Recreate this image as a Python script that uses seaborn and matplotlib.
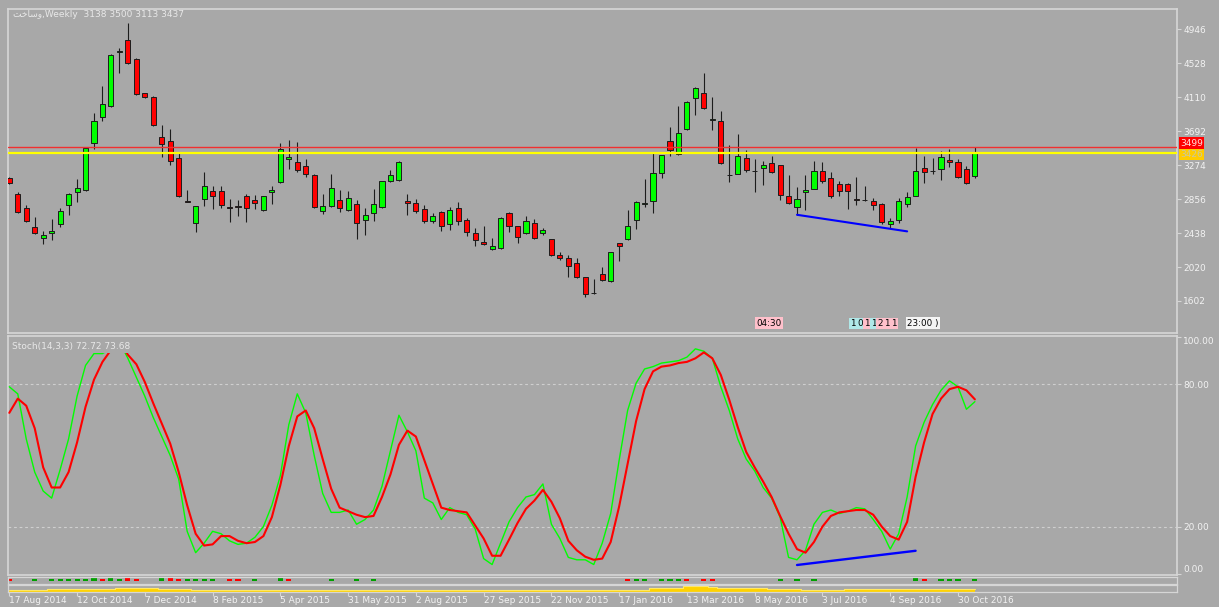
import numpy as np
import pandas as pd
import matplotlib
matplotlib.use("Agg")
import matplotlib.pyplot as plt
import seaborn as sns

# weekly candles (bar 0 = 17 Aug 2014)
opens = [3114, 2918, 2745, 2512, 2377, 2438, 2549, 2782, 2942, 2967,
         3544, 3864, 3999, 4670, 4811, 4577, 4159, 4110, 3618, 3569,
         3360, 2832, 2561, 2856, 2954, 2954, 2758, 2770, 2893, 2844,
         2721, 2942, 3065, 3348, 3311, 3262, 3151, 2708, 2770, 2844,
         2721, 2795, 2598, 2684, 2758, 3077, 3090, 2832, 2807, 2733,
         2586, 2696, 2549, 2745, 2598, 2438, 2327, 2241, 2254, 2684,
         2524, 2438, 2561, 2438, 2364, 2168, 2131, 2069, 1897, 1695,
         1934, 1848, 2315, 2364, 2598, 2800, 2832, 3176, 3569, 3409,
         3717, 4098, 4159, 3835, 3815, 3148, 3163, 3360, 3198, 3237,
         3299, 3274, 2893, 2758, 2942, 2979, 3200, 3114, 3040, 3040,
         2856, 2844, 2832, 2795, 2549, 2598, 2795, 2893, 3237, 3198,
         3225, 3335, 3311, 3225, 3138]
highs = [3130, 2942, 2782, 2635, 2463, 2610, 2745, 2930, 3102, 3490,
         3913, 4245, 4640, 4712, 5020, 4590, 4165, 4120, 3766, 3717,
         3422, 2967, 2770, 3188, 3016, 3016, 2856, 2844, 2918, 2905,
         2900, 3016, 3544, 3581, 3557, 3348, 3160, 2918, 3163, 2967,
         2954, 2844, 2745, 2979, 3080, 3212, 3320, 2918, 2856, 2782,
         2684, 2710, 2758, 2819, 2622, 2499, 2524, 2377, 2630, 2700,
         2530, 2647, 2610, 2499, 2370, 2204, 2168, 2131, 1900, 1872,
         2020, 2210, 2320, 2721, 2830, 3102, 3434, 3400, 3741, 4000,
         4060, 4230, 4405, 4110, 3938, 3520, 3655, 3458, 3348, 3323,
         3385, 3280, 3151, 3003, 3151, 3323, 3311, 3188, 3077, 3053,
         3126, 3016, 2868, 2807, 2622, 2868, 2942, 3483, 3385, 3360,
         3446, 3471, 3348, 3262, 3500]
lows = [3040, 2690, 2575, 2430, 2303, 2352, 2512, 2659, 2819, 2960,
        3471, 3815, 3987, 4405, 4520, 4140, 4105, 3760, 3372, 3274,
        2880, 2820, 2450, 2770, 2733, 2745, 2573, 2647, 2573, 2733,
        2715, 2795, 3060, 3225, 3188, 3127, 2750, 2672, 2765, 2696,
        2715, 2364, 2413, 2586, 2750, 3070, 3080, 2659, 2684, 2561,
        2561, 2463, 2475, 2536, 2401, 2278, 2290, 2235, 2245, 2450,
        2315, 2430, 2370, 2413, 2160, 2106, 1897, 1890, 1651, 1690,
        1848, 1840, 2094, 2352, 2487, 2758, 2684, 3114, 3385, 3400,
        3705, 3889, 3965, 3704, 3290, 3065, 3160, 3188, 2942, 3028,
        3180, 2844, 2795, 2659, 2721, 2975, 3053, 2868, 2893, 2733,
        2782, 2832, 2721, 2549, 2499, 2561, 2758, 2890, 3053, 3163,
        3090, 3249, 3114, 3045, 3113]
closes = [3053, 2696, 2586, 2438, 2413, 2463, 2708, 2918, 2991, 3483,
          3815, 4024, 4626, 4676, 4528, 4147, 4110, 3766, 3532, 3323,
          2893, 2825, 2770, 3016, 2893, 2782, 2752, 2765, 2745, 2807,
          2893, 2967, 3471, 3372, 3212, 3163, 2758, 2770, 2991, 2745,
          2868, 2561, 2659, 2795, 3077, 3151, 3311, 2807, 2708, 2586,
          2647, 2524, 2721, 2586, 2450, 2352, 2303, 2278, 2622, 2524,
          2389, 2586, 2377, 2475, 2168, 2131, 2032, 1897, 1688, 1700,
          1860, 2204, 2278, 2524, 2819, 2810, 3176, 3397, 3458, 3667,
          4049, 4221, 3975, 3845, 3299, 3155, 3385, 3212, 3203, 3274,
          3188, 2905, 2807, 2856, 2967, 3200, 3077, 2893, 2954, 2954,
          2850, 2850, 2782, 2573, 2586, 2832, 2881, 3200, 3188, 3205,
          3372, 3311, 3126, 3053, 3437]

# Stoch(14,3,3): %K (green) and %D (red)
stoch_k = [79, 76, 57, 43, 35, 32, 44, 57, 75, 88,
           93, 93, 95, 98, 91, 83, 75, 66, 58, 50,
           40, 18, 9, 13, 18, 17, 14, 12.5, 13, 15.5,
           20, 29, 41.5, 63, 76, 68, 50, 34, 26, 26,
           27, 21, 23, 27, 37, 52, 67, 60, 52, 32,
           30, 23, 28, 26, 25, 19, 6.5, 4, 13, 22,
           28, 32.5, 33.5, 38, 21, 15, 7, 6, 6, 4,
           13, 25.5, 48, 69, 80.5, 86.5, 87.5, 89, 89.5, 90,
           91.5, 95, 94, 91, 79, 69, 57, 48.5, 43.5, 36.5,
           32, 24, 7, 6, 10, 21, 26, 27, 25.5, 26.5,
           28, 27.5, 23, 18, 10.5, 17, 32.5, 54, 64, 71.5,
           77.5, 81.5, 79, 69.5, 72.72]
stoch_d = [68, 74, 71, 61.5, 45, 36.5, 36.5, 43, 55.5, 70.5,
           82, 89.5, 94.5, 98, 92.5, 88.5, 81, 72, 63.5, 55,
           43, 29, 17, 12, 12.5, 16, 16, 14, 13, 13.5,
           16, 24, 37.5, 54, 66.5, 69, 61.5, 48.5, 36, 28,
           26.5, 25, 24, 24.5, 32.5, 42, 54.5, 60.5, 58, 48,
           38, 28, 27, 26.5, 26, 20.5, 15, 7.7, 7.7, 14.5,
           21.5, 27.5, 31, 35.5, 30.5, 23.5, 14, 10, 7.3, 6,
           6.5, 13.5, 28.5, 46.5, 64.5, 78, 85.5, 87.5, 88, 89,
           89.5, 91, 93.5, 91, 84, 73.5, 62, 51.5, 45, 39,
           32.5, 24.5, 17, 10.5, 9, 13.5, 20, 24.5, 26, 26.5,
           27, 27, 25, 20, 16, 14.5, 22, 41, 55.5, 67.5,
           74, 78, 79, 77.5, 73.68]

# small histogram strip under the stochastic (sign = colour)
hist_vals = [-1, 0, 0, 1, 0, 1, 1, 1, 1, 1,
             2, -1, 2, 1, -2, -1, 0, 0, 2, -2,
             -1, 1, 1, 1, 1, 0, -1, -1, 0, 1,
             0, 0, 2, -1, 0, 0, 0, 0, 1, 0,
             0, 1, 0, 1, 0, 0, 0, 0, 0, 0,
             0, 0, 0, 0, 0, 0, 0, 0, 0, 0,
             0, 0, 0, 0, 0, 0, 0, 0, 0, 0,
             0, 0, 0, -1, 1, 1, 0, 1, 1, 1,
             -1, 0, -1, -1, 0, 0, 0, 0, 0, 0,
             0, 1, 0, 1, 0, 1, 0, 0, 0, 0,
             0, 0, 0, 0, 0, 0, 0, 2, -1, 0,
             1, 1, 1, 0, 1]
# yellow band strip
band_vals = [1, 1, 1, 1, 1, 2, 2, 2, 2, 2,
             2, 2, 2, 3, 3, 3, 3, 3, 2, 2,
             2, 2, 1.5, 1.5, 1.5, 1.5, 1.5, 1.5, 1.5, 1.5,
             1.5, 1.5, 1.5, 1.5, 1.5, 1.5, 1.5, 1.5, 1.5, 1.5,
             1.5, 1.5, 1.5, 1.5, 1.5, 1.5, 1.5, 1.5, 1.5, 1.5,
             1.5, 1.5, 1.5, 1.5, 1.5, 1.5, 1.5, 1.5, 1.5, 1,
             1, 1, 1.5, 1.5, 1.5, 1.5, 1.5, 1.5, 1.5, 1.5,
             1.5, 1.5, 1.5, 1.5, 1.5, 1.5, 2.5, 2.5, 3, 3,
             4, 4, 4, 3.5, 2.5, 2.5, 2.5, 2.5, 2.5, 2.5,
             2, 2, 2, 2, 1, 1, 1, 1, 1, 2,
             2, 2, 2, 2, 2, 2, 2, 2, 2, 2,
             2, 2, 2, 2, 2]

date_labels = ["17 Aug 2014", "12 Oct 2014", "7 Dec 2014", "8 Feb 2015",
               "5 Apr 2015", "31 May 2015", "2 Aug 2015", "27 Sep 2015",
               "22 Nov 2015", "17 Jan 2016", "13 Mar 2016", "8 May 2016",
               "3 Jul 2016", "4 Sep 2016", "30 Oct 2016"]
price_ticks = [1602, 2020, 2438, 2856, 3274, 3692, 4110, 4528, 4946]
stoch_ticks = [0, 20, 80, 100]
level_red = 3499
level_yellow = 3426
trend_bars = [93, 106]
trend_prices = [2663, 2459]
stoch_trend_bars = [93, 107]
stoch_trend_vals = [3.8, 9.8]

BG = "#A8A8A8"
FRAME = "#D6D6D6"
TXT = "#F2F2F2"

sns.set_theme(style="dark", rc={"axes.facecolor": BG, "figure.facecolor": BG})
plt.rcParams["font.family"] = ["DejaVu Sans"]

df = pd.DataFrame({"open": opens, "high": highs, "low": lows, "close": closes,
                   "k": stoch_k, "d": stoch_d, "hist": hist_vals, "band": band_vals})
df["bar"] = np.arange(len(df))

W, H = 1219, 607
fig = plt.figure(figsize=(W / 100, H / 100), dpi=100)


def panel(top, bottom, lw=1.2):
    ax = fig.add_axes([8 / W, (H - bottom) / H, 1169 / W, (bottom - top) / H])
    ax.set_facecolor(BG)
    for s in ax.spines.values():
        s.set_color(FRAME)
        s.set_linewidth(lw)
    ax.set_xlim(-0.153, 137.86)
    ax.grid(False)
    return ax


# ---- price panel
ax = panel(9, 333)
ax.set_ylim(1208, 5196)
up = df["close"] >= df["open"]
ax.vlines(df["bar"], df["low"], df["high"], color="#1c1c1c", lw=0.8, zorder=2)
ax.bar(df["bar"], (df["close"] - df["open"]).abs(), bottom=df[["open", "close"]].min(axis=1),
       width=0.6, color=np.where(up, "#00FF00", "#FF0000"), edgecolor="#1c1c1c",
       linewidth=0.7, zorder=3)
ax.axhline(level_red, color="#F03030", lw=1.0, zorder=4)
ax.axhline(level_yellow, color="#FFFF00", lw=1.6, zorder=4)
ax.plot(trend_bars, trend_prices, color="#0000FF", lw=1.5, zorder=4)
ax.yaxis.tick_right()
ax.set_yticks(price_ticks)
ax.set_yticklabels([str(p) for p in price_ticks])
ax.set_xticks([])
ax.tick_params(axis="y", length=3, width=0.8, color=FRAME, labelsize=6.5,
               labelcolor=TXT, pad=1.5, right=True)
ax.text(0.0043, 0.9815, "\ufe96\ufea7\ufe8e\ufeb3\ufeed,Weekly  3138 3500 3113 3437",
        transform=ax.transAxes, va="center", ha="left", fontsize=6.5, color="#E8E8E8")
lab_kw = dict(transform=ax.get_yaxis_transform(), va="center", ha="left",
              fontsize=6.5, clip_on=False)
ax.text(1.0025, level_red + 45, "3499", color="#FFE0E0",
        bbox=dict(boxstyle="square,pad=0.15", fc="#FF0000", ec="none"), **lab_kw)
ax.text(1.0025, level_yellow - 20, "3426", color="#C8C8A0",
        bbox=dict(boxstyle="square,pad=0.15", fc="#FFCC00", ec="none"), **lab_kw)

# time labels along the bottom of the price panel
tkw = dict(transform=ax.get_xaxis_transform(), va="center", ha="left", fontsize=6.3,
           color="black", zorder=6)
ax.text(88.2, 0.03, "04:30", bbox=dict(boxstyle="square,pad=0.15", fc="#FFC0CB", ec="none"), **tkw)
digits = ["1", "0", "1", "1", "2", "1", "1"]
digit_fc = ["#B0E8E8", "#B0E8E8", "#FFC0CB", "#B0E8E8", "#FFC0CB", "#FFC0CB", "#FFC0CB"]
for j, (dg, fc) in enumerate(zip(digits, digit_fc)):
    ax.text(99.3 + j * 0.8, 0.03, dg, bbox=dict(boxstyle="square,pad=0.12", fc=fc, ec="none"), **tkw)
ax.text(106.0, 0.03, "23:00 )", bbox=dict(boxstyle="square,pad=0.15", fc="#F4F4F4", ec="none"), **tkw)

# ---- stochastic panel
ax2 = panel(336, 575)
ax2.set_ylim(-0.42, 100.42)
for lvl in (80, 20):
    ax2.axhline(lvl, color="#CFCFCF", lw=0.8, ls=(0, (2.5, 2.5)), zorder=1)
sns.lineplot(data=df, x="bar", y="k", ax=ax2, color="#00FF00", linewidth=1.0, zorder=3)
sns.lineplot(data=df, x="bar", y="d", ax=ax2, color="#FF0000", linewidth=1.5, zorder=4)
ax2.plot(stoch_trend_bars, stoch_trend_vals, color="#0000FF", lw=1.7, zorder=5)
ax2.set_xlabel("")
ax2.set_ylabel("")
ax2.set_xlim(-0.153, 137.86)
ax2.set_xticks([])
ax2.yaxis.tick_right()
ax2.set_yticks(stoch_ticks)
ax2.set_yticklabels(["0.00", "20.00", "80.00", "100.00"])
ax2.tick_params(axis="y", length=3, width=0.8, color=FRAME, labelsize=6.5,
                labelcolor=TXT, pad=1.5, right=True)
tl = ax2.get_yticklabels()
tl[0].set_va("bottom")
tl[3].set_va("top")
ax2.text(0.0034, 0.958, "Stoch(14,3,3) 72.72 73.68", transform=ax2.transAxes,
         va="center", ha="left", fontsize=6.5, color="#E8E8E8", zorder=10,
         bbox=dict(boxstyle="square,pad=0.25", fc=BG, ec="none"))

# ---- histogram strip
ax3 = panel(577, 584, lw=0.9)
ax3.set_ylim(-2.6, 2.6)
hist = df[df["hist"] != 0]
ax3.bar(hist["bar"], hist["hist"].abs(), width=0.6, linewidth=0,
        color=np.where(hist["hist"] > 0, "#00A000", "#FF0000"))
ax3.set_xticks([])
ax3.set_yticks([])

# ---- yellow band strip with the date axis
ax4 = panel(585, 592, lw=0.9)
ax4.set_ylim(-0.3, 5)
ax4.fill_between(df["bar"], 0, df["band"], step="mid", color="#FFD200", lw=0)
ax4.plot(df["bar"], df["band"], drawstyle="steps-mid", color="#FFE866", lw=0.8)
ax4.set_yticks([])
ax4.set_xticks(df["bar"][::8])
ax4.set_xticklabels(date_labels, ha="left")
ax4.tick_params(axis="x", length=3, width=0.8, color=FRAME, labelsize=6.5,
                labelcolor=TXT, pad=0.2, bottom=True)

fig.savefig("out.png", dpi=100, facecolor=BG)
